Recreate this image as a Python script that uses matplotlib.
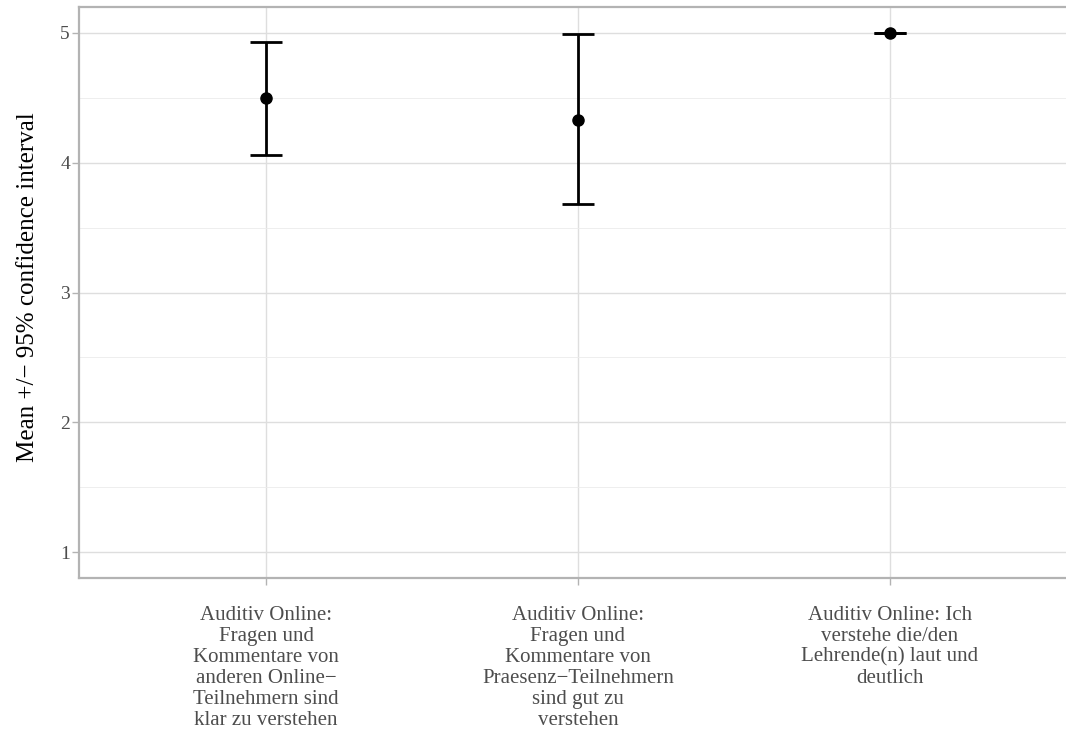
import matplotlib
matplotlib.use("Agg")
import matplotlib.pyplot as plt
from matplotlib.ticker import FixedLocator

categories = [
    "Auditiv Online:\nFragen und\nKommentare von\nanderen Online\u2212\nTeilnehmern sind\nklar zu verstehen",
    "Auditiv Online:\nFragen und\nKommentare von\nPraesenz\u2212Teilnehmern\nsind gut zu\nverstehen",
    "Auditiv Online: Ich\nverstehe die/den\nLehrende(n) laut und\ndeutlich",
]
means = [4.50, 4.33, 5.00]
lower = [4.06, 3.68, 5.00]
upper = [4.93, 4.99, 5.00]
y_ticks = [1, 2, 3, 4, 5]

plt.rcParams['font.family'] = ['Liberation Serif', 'DejaVu Serif']

fig = plt.figure(figsize=(10.66, 7.33), dpi=100)
ax = fig.add_axes([79/1066, (733-578)/733, 998/1066, 571/733])

x = list(range(1, len(categories) + 1))
yerr = [[m - l for m, l in zip(means, lower)], [u - m for m, u in zip(means, upper)]]
ax.errorbar(x, means, yerr=yerr, fmt='o', color='black', ecolor='black',
            elinewidth=2.0, capsize=11.5, capthick=2.0, markersize=8, zorder=3)

ax.set_xlim(0.4, 3.6)
ax.set_ylim(0.8, 5.2)
ax.set_xticks(x)
ax.set_xticklabels(categories, linespacing=1.14)
ax.yaxis.set_major_locator(FixedLocator(y_ticks))
ax.yaxis.set_minor_locator(FixedLocator([1.5, 2.5, 3.5, 4.5]))

ax.grid(True, which='major', color='#DEDEDE', linewidth=1.0, zorder=0)
ax.grid(True, which='minor', axis='y', color='#EBEBEB', linewidth=0.6, zorder=0)
ax.set_axisbelow(True)

for s in ax.spines.values():
    s.set_color('#B3B3B3')
    s.set_linewidth(1.6)

ax.tick_params(axis='both', which='major', length=5, width=1.0, color='#B3B3B3',
               labelcolor='#4D4D4D', labelsize=14, pad=1.5)
ax.tick_params(axis='x', labelsize=15, pad=15)
ax.tick_params(axis='y', which='minor', length=0)

ax.set_ylabel("Mean +/\u2212 95% confidence interval", fontsize=18, color='black')
ax.yaxis.set_label_coords((39 - 79) / 998, (578 - 287) / 571)

fig.savefig("out.png", dpi=100)
